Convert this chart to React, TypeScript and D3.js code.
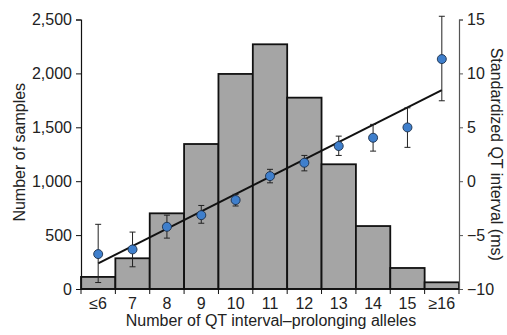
import React, { useEffect, useRef } from 'react';
import * as d3 from 'd3';

const categories = ['≤6', '7', '8', '9', '10', '11', '12', '13', '14', '15', '≥16'];
const sampleCounts = [112, 285, 702, 1345, 1995, 2270, 1775, 1157, 584, 195, 62];
const qtMeans = [-6.76, -6.33, -4.23, -3.15, -1.75, 0.47, 1.71, 3.26, 4.03, 4.99, 11.33];
const qtLower = [-9.4, -7.94, -5.28, -3.9, -2.3, -0.15, 0.96, 2.39, 2.79, 3.14, 7.46];
const qtUpper = [-4.0, -4.72, -3.15, -2.25, -1.22, 1.1, 2.39, 4.18, 5.27, 6.81, 15.3];
// fitted line, value at first and last category
const fitStart = -7.63;
const fitEnd = 8.45;

const countTicks = [0, 500, 1000, 1500, 2000, 2500];
const qtTicks = [-10, -5, 0, 5, 10, 15];

const W = 507;
const H = 335;
const margin = { top: 19.5, right: 48, bottom: 46, left: 81 };
const FONT = '"Liberation Sans", Arial, Helvetica, sans-serif';
const FS = '16px';

function QtChart() {
  const svgRef = useRef<SVGSVGElement>(null);

  useEffect(() => {
    const svg = d3.select(svgRef.current);
    svg.selectAll('*').remove();

    const x0 = margin.left;
    const x1 = W - margin.right;
    const y0 = H - margin.bottom;
    const y1 = margin.top;

    const x = d3.scaleBand().domain(categories).range([x0, x1]).padding(0);
    const yCount = d3.scaleLinear().domain([0, 2500]).range([y0, y1]);
    const yQt = d3.scaleLinear().domain([-10, 15]).range([y0, y1]);
    const cx = (c: string) => (x(c) as number) + x.bandwidth() / 2;

    // bars
    svg.append('g')
      .selectAll('rect')
      .data(sampleCounts)
      .enter()
      .append('rect')
      .attr('x', (d, i) => x(categories[i]) as number)
      .attr('y', d => yCount(d))
      .attr('width', x.bandwidth())
      .attr('height', d => y0 - yCount(d))
      .attr('fill', '#a5a5a5')
      .attr('stroke', '#111')
      .attr('stroke-width', 1.8);

    // left axis
    const left = svg.append('g')
      .attr('transform', `translate(${x0},0)`)
      .call(d3.axisLeft(yCount).tickValues(countTicks).tickSize(5).tickPadding(4).tickFormat(d3.format(',')));
    left.select('.domain').attr('stroke', '#111').attr('stroke-width', 1.2);
    left.selectAll('.tick line').attr('stroke', '#111');
    left.selectAll('text').style('font-family', FONT).style('font-size', FS).attr('fill', '#222');

    // right axis
    const right = svg.append('g')
      .attr('transform', `translate(${x1},0)`)
      .call(d3.axisRight(yQt).tickValues(qtTicks).tickSize(4).tickPadding(4).tickFormat(d => d3.format('')(d).replace('-', '\u2212')));
    right.select('.domain').attr('stroke', '#555').attr('stroke-width', 1.2);
    right.selectAll('.tick line').attr('stroke', '#555');
    right.selectAll('text').style('font-family', FONT).style('font-size', FS).attr('fill', '#222');

    // bottom axis
    const bottom = svg.append('g').attr('transform', `translate(0,${y0})`);
    bottom.append('line')
      .attr('x1', x0).attr('x2', x1)
      .attr('stroke', '#111').attr('stroke-width', 1.5);
    bottom.selectAll('line.tk')
      .data(categories.concat(['end']))
      .enter()
      .append('line')
      .attr('class', 'tk')
      .attr('x1', (d, i) => x0 + i * x.bandwidth())
      .attr('x2', (d, i) => x0 + i * x.bandwidth())
      .attr('y1', 0)
      .attr('y2', 5)
      .attr('stroke', '#111');
    bottom.selectAll('text')
      .data(categories)
      .enter()
      .append('text')
      .attr('x', d => cx(d))
      .attr('y', 19.5)
      .attr('text-anchor', 'middle')
      .style('font-family', FONT)
      .style('font-size', FS)
      .attr('fill', '#222')
      .text(d => d);

    // fitted line
    svg.append('line')
      .attr('x1', cx(categories[0]))
      .attr('y1', yQt(fitStart))
      .attr('x2', cx(categories[categories.length - 1]))
      .attr('y2', yQt(fitEnd))
      .attr('stroke', '#111')
      .attr('stroke-width', 2);

    // error bars
    const eb = svg.append('g')
      .selectAll('g')
      .data(categories)
      .enter()
      .append('g');
    eb.append('line')
      .attr('x1', d => cx(d)).attr('x2', d => cx(d))
      .attr('y1', (d, i) => yQt(qtLower[i]))
      .attr('y2', (d, i) => yQt(qtUpper[i]))
      .attr('stroke', '#222').attr('stroke-width', 1);
    eb.append('line')
      .attr('x1', d => cx(d) - 3).attr('x2', d => cx(d) + 3)
      .attr('y1', (d, i) => yQt(qtLower[i]))
      .attr('y2', (d, i) => yQt(qtLower[i]))
      .attr('stroke', '#222').attr('stroke-width', 1);
    eb.append('line')
      .attr('x1', d => cx(d) - 3).attr('x2', d => cx(d) + 3)
      .attr('y1', (d, i) => yQt(qtUpper[i]))
      .attr('y2', (d, i) => yQt(qtUpper[i]))
      .attr('stroke', '#222').attr('stroke-width', 1);

    // points
    svg.append('g')
      .selectAll('circle')
      .data(qtMeans)
      .enter()
      .append('circle')
      .attr('cx', (d, i) => cx(categories[i]))
      .attr('cy', d => yQt(d))
      .attr('r', 4.5)
      .attr('fill', '#3f7fcc')
      .attr('stroke', '#1c2f4a')
      .attr('stroke-width', 0.9);

    // axis titles
    svg.append('text')
      .attr('x', (x0 + x1) / 2 + 1)
      .attr('y', 326)
      .attr('text-anchor', 'middle')
      .style('font-family', FONT)
      .style('font-size', FS)
      .attr('fill', '#222')
      .text('Number of QT interval–prolonging alleles');

    svg.append('text')
      .attr('transform', `translate(25,${(y0 + y1) / 2 - 2}) rotate(-90)`)
      .attr('text-anchor', 'middle')
      .style('font-family', FONT)
      .style('font-size', FS)
      .attr('fill', '#222')
      .text('Number of samples');

    svg.append('text')
      .attr('transform', `translate(491,${(y0 + y1) / 2}) rotate(90)`)
      .attr('text-anchor', 'middle')
      .style('font-family', FONT)
      .style('font-size', FS)
      .attr('fill', '#222')
      .text('Standardized QT interval (ms)');
  }, []);

  return (
    <svg
      ref={svgRef}
      width={W}
      height={H}
      style={{ position: 'absolute', left: 0, top: 0, background: '#fff' }}
    />
  );
}

export default function App() {
  return <QtChart />;
}
